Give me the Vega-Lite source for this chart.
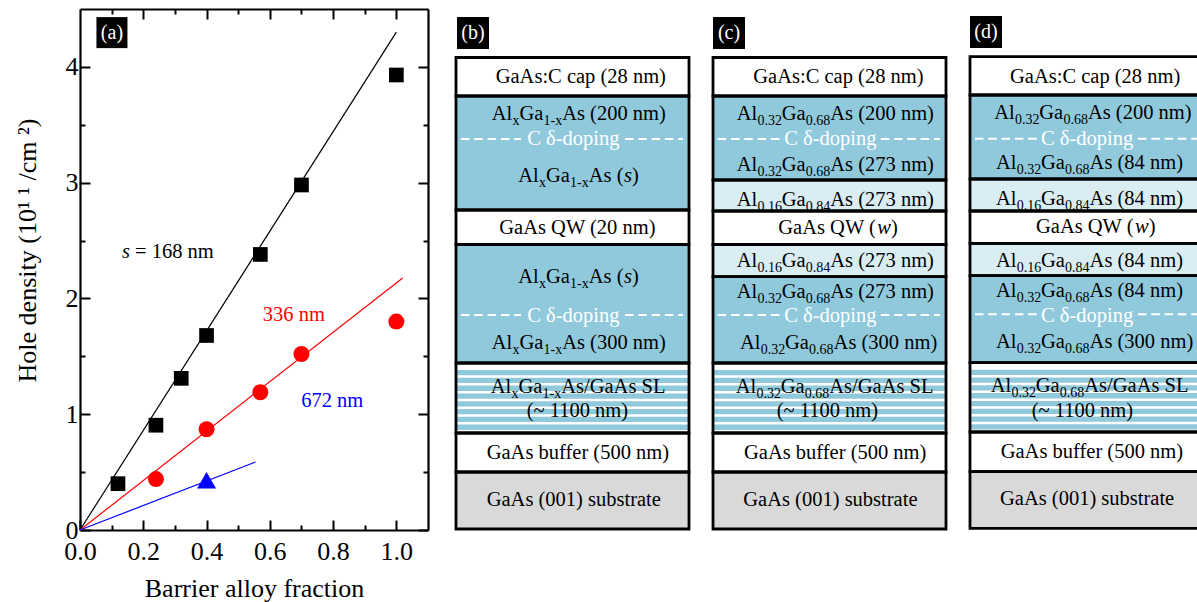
{
"$schema":"https://vega.github.io/schema/vega-lite/v6.json",
"padding":{"left":13,"top":8,"right":0,"bottom":0},
"background":"white",
"config":{"view":{"stroke":null},"font":"Liberation Serif"},
"bounds":"flush","spacing":26,
"datasets":{
"lines":[
{"series":"168 nm","fraction":0,"density":0},{"series":"168 nm","fraction":1.0,"density":4.3},
{"series":"336 nm","fraction":0,"density":0},{"series":"336 nm","fraction":1.02,"density":2.177},
{"series":"672 nm","fraction":0,"density":0},{"series":"672 nm","fraction":0.555,"density":0.587}],
"points":[
{"series":"168 nm","fraction":0.12,"density":0.4},{"series":"168 nm","fraction":0.24,"density":0.905},{"series":"168 nm","fraction":0.32,"density":1.31},{"series":"168 nm","fraction":0.4,"density":1.68},{"series":"168 nm","fraction":0.57,"density":2.38},{"series":"168 nm","fraction":0.7,"density":2.98},{"series":"168 nm","fraction":1.0,"density":3.93},
{"series":"336 nm","fraction":0.24,"density":0.44},{"series":"336 nm","fraction":0.4,"density":0.87},{"series":"336 nm","fraction":0.57,"density":1.19},{"series":"336 nm","fraction":0.7,"density":1.52},{"series":"336 nm","fraction":1.0,"density":1.8},
{"series":"672 nm","fraction":0.4,"density":0.43}],
"notes":[
{"label":"= 168 nm","fraction":0.1737,"density":2.346,"series":"168 nm"},
{"label":"336 nm","fraction":0.578,"density":1.807,"series":"336 nm"},
{"label":"672 nm","fraction":0.699,"density":1.06,"series":"672 nm"}],
"layers":[
{"panel":"b","part":"layer","material":"GaAs","top":0.5,"bottom":39},{"panel":"b","part":"layer","material":"AlGaAs","top":39,"bottom":153},{"panel":"b","part":"layer","material":"GaAs","top":153,"bottom":187.5},{"panel":"b","part":"layer","material":"AlGaAs","top":187.5,"bottom":306},{"panel":"b","part":"layer","material":"GaAs","top":306,"bottom":376},{"panel":"b","part":"layer","material":"GaAs","top":376,"bottom":415},{"panel":"b","part":"layer","material":"substrate","top":415,"bottom":472},
{"panel":"c","part":"layer","material":"GaAs","top":0.5,"bottom":39},{"panel":"c","part":"layer","material":"AlGaAs","top":39,"bottom":123},{"panel":"c","part":"layer","material":"spacer","top":123,"bottom":154},{"panel":"c","part":"layer","material":"GaAs","top":154,"bottom":187.5},{"panel":"c","part":"layer","material":"spacer","top":187.5,"bottom":219.7},{"panel":"c","part":"layer","material":"AlGaAs","top":219.7,"bottom":306},{"panel":"c","part":"layer","material":"GaAs","top":306,"bottom":376},{"panel":"c","part":"layer","material":"GaAs","top":376,"bottom":415},{"panel":"c","part":"layer","material":"substrate","top":415,"bottom":472},
{"panel":"d","part":"layer","material":"GaAs","top":-0.3,"bottom":38},{"panel":"d","part":"layer","material":"AlGaAs","top":38,"bottom":122},{"panel":"d","part":"layer","material":"spacer","top":122,"bottom":154},{"panel":"d","part":"layer","material":"GaAs","top":154,"bottom":186.3},{"panel":"d","part":"layer","material":"spacer","top":186.3,"bottom":218.7},{"panel":"d","part":"layer","material":"AlGaAs","top":218.7,"bottom":305.7},{"panel":"d","part":"layer","material":"GaAs","top":305.7,"bottom":375},{"panel":"d","part":"layer","material":"GaAs","top":375,"bottom":414.7},{"panel":"d","part":"layer","material":"substrate","top":414.7,"bottom":471.3},
{"panel":"b","part":"stripe","material":"AlGaAs","top":313,"bottom":318.3},{"panel":"b","part":"stripe","material":"AlGaAs","top":320.8,"bottom":326.1},{"panel":"b","part":"stripe","material":"AlGaAs","top":328.6,"bottom":333.9},{"panel":"b","part":"stripe","material":"AlGaAs","top":336.4,"bottom":341.7},{"panel":"b","part":"stripe","material":"AlGaAs","top":344.2,"bottom":349.5},{"panel":"b","part":"stripe","material":"AlGaAs","top":352,"bottom":357.3},{"panel":"b","part":"stripe","material":"AlGaAs","top":359.8,"bottom":365.1},{"panel":"b","part":"stripe","material":"AlGaAs","top":367.6,"bottom":372.9},
{"panel":"c","part":"stripe","material":"AlGaAs","top":313,"bottom":318.3},{"panel":"c","part":"stripe","material":"AlGaAs","top":320.8,"bottom":326.1},{"panel":"c","part":"stripe","material":"AlGaAs","top":328.6,"bottom":333.9},{"panel":"c","part":"stripe","material":"AlGaAs","top":336.4,"bottom":341.7},{"panel":"c","part":"stripe","material":"AlGaAs","top":344.2,"bottom":349.5},{"panel":"c","part":"stripe","material":"AlGaAs","top":352,"bottom":357.3},{"panel":"c","part":"stripe","material":"AlGaAs","top":359.8,"bottom":365.1},{"panel":"c","part":"stripe","material":"AlGaAs","top":367.6,"bottom":372.9},
{"panel":"d","part":"stripe","material":"AlGaAs","top":312.7,"bottom":318},{"panel":"d","part":"stripe","material":"AlGaAs","top":320.5,"bottom":325.8},{"panel":"d","part":"stripe","material":"AlGaAs","top":328.3,"bottom":333.6},{"panel":"d","part":"stripe","material":"AlGaAs","top":336.1,"bottom":341.4},{"panel":"d","part":"stripe","material":"AlGaAs","top":343.9,"bottom":349.2},{"panel":"d","part":"stripe","material":"AlGaAs","top":351.7,"bottom":357},{"panel":"d","part":"stripe","material":"AlGaAs","top":359.5,"bottom":364.8},{"panel":"d","part":"stripe","material":"AlGaAs","top":367.3,"bottom":372.6}],
"doping":[
{"panel":"b","from":5,"to":65,"depth":82},{"panel":"b","from":169,"to":227,"depth":82},{"panel":"b","from":5,"to":65,"depth":258},{"panel":"b","from":169,"to":227,"depth":258},
{"panel":"c","from":4.7,"to":67,"depth":82},{"panel":"c","from":167.7,"to":227,"depth":82},{"panel":"c","from":4.7,"to":67,"depth":258},{"panel":"c","from":167.7,"to":227,"depth":258},
{"panel":"d","from":5,"to":67,"depth":81.7},{"panel":"d","from":168,"to":240,"depth":81.7},{"panel":"d","from":5,"to":67,"depth":257.3},{"panel":"d","from":168,"to":240,"depth":257.3}],
"tags":[{"panel":"b","label":"(b)","across":17,"depth":-24},{"panel":"c","label":"(c)","across":16,"depth":-24},{"panel":"d","label":"(d)","across":16,"depth":-25}],
"texts":[
{"panel":"b","role":"main","label":"GaAs:C cap (28 nm)","across":39.7,"depth":26.3},
{"panel":"b","role":"main","label":"Al","across":35.7,"depth":63},{"panel":"b","role":"sub","label":"x","across":56.4,"depth":68},{"panel":"b","role":"main","label":"Ga","across":63.4,"depth":63},{"panel":"b","role":"sub","label":"1-x","across":87.5,"depth":68},{"panel":"b","role":"main","label":"As (200 nm)","across":106.2,"depth":63},
{"panel":"b","role":"doping","label":"C δ-doping","across":71.3,"depth":88},
{"panel":"b","role":"main","label":"Al","across":62.3,"depth":124.7},{"panel":"b","role":"sub","label":"x","across":83,"depth":129.7},{"panel":"b","role":"main","label":"Ga","across":90,"depth":124.7},{"panel":"b","role":"sub","label":"1-x","across":114.1,"depth":129.7},{"panel":"b","role":"main","label":"As (","across":132.8,"depth":124.7},{"panel":"b","role":"italic","label":"s","across":167.9,"depth":124.7},{"panel":"b","role":"main","label":")","across":176,"depth":124.7},
{"panel":"b","role":"main","label":"GaAs QW (20 nm)","across":43.3,"depth":177},
{"panel":"b","role":"main","label":"Al","across":62.3,"depth":226.3},{"panel":"b","role":"sub","label":"x","across":83,"depth":231.3},{"panel":"b","role":"main","label":"Ga","across":90,"depth":226.3},{"panel":"b","role":"sub","label":"1-x","across":114.1,"depth":231.3},{"panel":"b","role":"main","label":"As (","across":132.8,"depth":226.3},{"panel":"b","role":"italic","label":"s","across":167.9,"depth":226.3},{"panel":"b","role":"main","label":")","across":176,"depth":226.3},
{"panel":"b","role":"doping","label":"C δ-doping","across":71.3,"depth":265.3},
{"panel":"b","role":"main","label":"Al","across":35.7,"depth":292.3},{"panel":"b","role":"sub","label":"x","across":56.4,"depth":297.3},{"panel":"b","role":"main","label":"Ga","across":63.4,"depth":292.3},{"panel":"b","role":"sub","label":"1-x","across":87.5,"depth":297.3},{"panel":"b","role":"main","label":"As (300 nm)","across":106.2,"depth":292.3},
{"panel":"b","role":"main","label":"Al","across":34.7,"depth":336.3},{"panel":"b","role":"sub","label":"x","across":55.4,"depth":341.3},{"panel":"b","role":"main","label":"Ga","across":62.4,"depth":336.3},{"panel":"b","role":"sub","label":"1-x","across":86.5,"depth":341.3},{"panel":"b","role":"main","label":"As/GaAs SL","across":105.2,"depth":336.3},
{"panel":"b","role":"main","label":"(~ 1100 nm)","across":70.7,"depth":360.3},
{"panel":"b","role":"main","label":"GaAs buffer (500 nm)","across":30.7,"depth":402.3},
{"panel":"b","role":"main","label":"GaAs (001) substrate","across":30.7,"depth":449},

{"panel":"c","role":"main","label":"GaAs:C cap (28 nm)","across":40.3,"depth":26.3},
{"panel":"c","role":"main","label":"Al","across":23.7,"depth":63},{"panel":"c","role":"sub","label":"0.32","across":44.4,"depth":68},{"panel":"c","role":"main","label":"Ga","across":68.7,"depth":63},{"panel":"c","role":"sub","label":"0.68","across":92.8,"depth":68},{"panel":"c","role":"main","label":"As (200 nm)","across":117.3,"depth":63},
{"panel":"c","role":"doping","label":"C δ-doping","across":71.3,"depth":88},
{"panel":"c","role":"main","label":"Al","across":23.7,"depth":113.7},{"panel":"c","role":"sub","label":"0.32","across":44.4,"depth":118.7},{"panel":"c","role":"main","label":"Ga","across":68.7,"depth":113.7},{"panel":"c","role":"sub","label":"0.68","across":92.8,"depth":118.7},{"panel":"c","role":"main","label":"As (273 nm)","across":117.3,"depth":113.7},
{"panel":"c","role":"main","label":"Al","across":23.7,"depth":149},{"panel":"c","role":"sub","label":"0.16","across":44.4,"depth":154},{"panel":"c","role":"main","label":"Ga","across":68.7,"depth":149},{"panel":"c","role":"sub","label":"0.84","across":92.8,"depth":154},{"panel":"c","role":"main","label":"As (273 nm)","across":117.3,"depth":149},
{"panel":"c","role":"main","label":"GaAs QW (","across":65.3,"depth":177},{"panel":"c","role":"italic","label":"w","across":164.2,"depth":177},{"panel":"c","role":"main","label":")","across":178,"depth":177},
{"panel":"c","role":"main","label":"Al","across":23.7,"depth":210.3},{"panel":"c","role":"sub","label":"0.16","across":44.4,"depth":215.3},{"panel":"c","role":"main","label":"Ga","across":68.7,"depth":210.3},{"panel":"c","role":"sub","label":"0.84","across":92.8,"depth":215.3},{"panel":"c","role":"main","label":"As (273 nm)","across":117.3,"depth":210.3},
{"panel":"c","role":"main","label":"Al","across":23.7,"depth":241.3},{"panel":"c","role":"sub","label":"0.32","across":44.4,"depth":246.3},{"panel":"c","role":"main","label":"Ga","across":68.7,"depth":241.3},{"panel":"c","role":"sub","label":"0.68","across":92.8,"depth":246.3},{"panel":"c","role":"main","label":"As (273 nm)","across":117.3,"depth":241.3},
{"panel":"c","role":"doping","label":"C δ-doping","across":71.3,"depth":265.3},
{"panel":"c","role":"main","label":"Al","across":27,"depth":292.3},{"panel":"c","role":"sub","label":"0.32","across":47.7,"depth":297.3},{"panel":"c","role":"main","label":"Ga","across":72,"depth":292.3},{"panel":"c","role":"sub","label":"0.68","across":96.1,"depth":297.3},{"panel":"c","role":"main","label":"As (300 nm)","across":120.6,"depth":292.3},
{"panel":"c","role":"main","label":"Al","across":22.7,"depth":336.3},{"panel":"c","role":"sub","label":"0.32","across":43.4,"depth":341.3},{"panel":"c","role":"main","label":"Ga","across":67.7,"depth":336.3},{"panel":"c","role":"sub","label":"0.68","across":91.8,"depth":341.3},{"panel":"c","role":"main","label":"As/GaAs SL","across":116.3,"depth":336.3},
{"panel":"c","role":"main","label":"(~ 1100 nm)","across":63.7,"depth":360.3},
{"panel":"c","role":"main","label":"GaAs buffer (500 nm)","across":31,"depth":402.3},
{"panel":"c","role":"main","label":"GaAs (001) substrate","across":30.3,"depth":449},

{"panel":"d","role":"main","label":"GaAs:C cap (28 nm)","across":40,"depth":26},
{"panel":"d","role":"main","label":"Al","across":24.3,"depth":62},{"panel":"d","role":"sub","label":"0.32","across":45,"depth":67},{"panel":"d","role":"main","label":"Ga","across":69.3,"depth":62},{"panel":"d","role":"sub","label":"0.68","across":93.4,"depth":67},{"panel":"d","role":"main","label":"As (200 nm)","across":117.9,"depth":62},
{"panel":"d","role":"doping","label":"C δ-doping","across":71,"depth":87.5},
{"panel":"d","role":"main","label":"Al","across":26,"depth":112.3},{"panel":"d","role":"sub","label":"0.32","across":46.7,"depth":117.3},{"panel":"d","role":"main","label":"Ga","across":71,"depth":112.3},{"panel":"d","role":"sub","label":"0.68","across":95.1,"depth":117.3},{"panel":"d","role":"main","label":"As (84 nm)","across":119.6,"depth":112.3},
{"panel":"d","role":"main","label":"Al","across":26,"depth":148},{"panel":"d","role":"sub","label":"0.16","across":46.7,"depth":153},{"panel":"d","role":"main","label":"Ga","across":71,"depth":148},{"panel":"d","role":"sub","label":"0.84","across":95.1,"depth":153},{"panel":"d","role":"main","label":"As (84 nm)","across":119.6,"depth":148},
{"panel":"d","role":"main","label":"GaAs QW (","across":66,"depth":176.3},{"panel":"d","role":"italic","label":"w","across":164.9,"depth":176.3},{"panel":"d","role":"main","label":")","across":178.7,"depth":176.3},
{"panel":"d","role":"main","label":"Al","across":26,"depth":209.7},{"panel":"d","role":"sub","label":"0.16","across":46.7,"depth":214.7},{"panel":"d","role":"main","label":"Ga","across":71,"depth":209.7},{"panel":"d","role":"sub","label":"0.84","across":95.1,"depth":214.7},{"panel":"d","role":"main","label":"As (84 nm)","across":119.6,"depth":209.7},
{"panel":"d","role":"main","label":"Al","across":26,"depth":240.3},{"panel":"d","role":"sub","label":"0.32","across":46.7,"depth":245.3},{"panel":"d","role":"main","label":"Ga","across":71,"depth":240.3},{"panel":"d","role":"sub","label":"0.68","across":95.1,"depth":245.3},{"panel":"d","role":"main","label":"As (84 nm)","across":119.6,"depth":240.3},
{"panel":"d","role":"doping","label":"C δ-doping","across":71,"depth":264.5},
{"panel":"d","role":"main","label":"Al","across":26,"depth":291.3},{"panel":"d","role":"sub","label":"0.32","across":46.7,"depth":296.3},{"panel":"d","role":"main","label":"Ga","across":71,"depth":291.3},{"panel":"d","role":"sub","label":"0.68","across":95.1,"depth":296.3},{"panel":"d","role":"main","label":"As (300 nm)","across":119.6,"depth":291.3},
{"panel":"d","role":"main","label":"Al","across":20.7,"depth":335.3},{"panel":"d","role":"sub","label":"0.32","across":41.4,"depth":340.3},{"panel":"d","role":"main","label":"Ga","across":65.7,"depth":335.3},{"panel":"d","role":"sub","label":"0.68","across":89.8,"depth":340.3},{"panel":"d","role":"main","label":"As/GaAs SL","across":114.3,"depth":335.3},
{"panel":"d","role":"main","label":"(~ 1100 nm)","across":61.7,"depth":359.7},
{"panel":"d","role":"main","label":"GaAs buffer (500 nm)","across":30.7,"depth":401.3},
{"panel":"d","role":"main","label":"GaAs (001) substrate","across":30,"depth":448}
]
},
"hconcat":[
{"width":348,"height":521,
"resolve":{"axis":{"x":"independent","y":"independent"}},
"layer":[
{"data":{"name":"lines"},"transform":[{"filter":"datum.series=='168 nm'"}],"mark":{"type":"line","color":"#000000","strokeWidth":1.2},
"encoding":{"x":{"field":"fraction","type":"quantitative","scale":{"domain":[0,1.1],"nice":false},
"axis":{"orient":"bottom","values":[0,0.2,0.4,0.6,0.8,1.0],"format":".1f","title":"Barrier alloy fraction","titleFont":"Liberation Serif","titleFontSize":26,"titleFontWeight":"normal","titleColor":"#000000","titleX":174,"titleY":66.7,"titleAlign":"center","titleBaseline":"alphabetic","labelFont":"Liberation Serif","labelFontSize":26,"labelColor":"#000000","labelPadding":39,"labelBaseline":"alphabetic","labelOverlap":false,"labelFlush":false,"labelBound":false,"tickSize":-10,"tickWidth":2,"tickColor":"#000000","domainWidth":2.2,"domainColor":"#000000","grid":false}},
"y":{"field":"density","type":"quantitative","scale":{"domain":[0,4.5],"nice":false},
"axis":{"orient":"left","values":[0,1,2,3,4],"format":"d","title":"Hole density (10¹ ¹ /cm ²)","titleFont":"Liberation Serif","titleFontSize":26,"titleFontWeight":"normal","titleColor":"#000000","titleX":-45,"titleY":241,"titleAngle":270,"titleAlign":"center","titleBaseline":"alphabetic","labelFont":"Liberation Serif","labelFontSize":26,"labelColor":"#000000","labelPadding":12,"labelOverlap":false,"labelFlush":false,"labelBound":false,"tickSize":-10,"tickWidth":2,"tickColor":"#000000","domainWidth":2.2,"domainColor":"#000000","grid":false}}}},
{"data":{"name":"lines"},"transform":[{"filter":"datum.series=='336 nm'"}],"mark":{"type":"line","color":"#FF0000","strokeWidth":1.2},
"encoding":{"x":{"field":"fraction","type":"quantitative","scale":{"domain":[0,1.1],"nice":false},
"axis":{"orient":"top","values":[0.2,0.4,0.6,0.8,1.0],"labels":false,"title":null,"tickSize":-10,"tickWidth":2,"tickColor":"#000000","domainWidth":2.2,"domainColor":"#000000","grid":false}},
"y":{"field":"density","type":"quantitative","scale":{"domain":[0,4.5],"nice":false},
"axis":{"orient":"right","values":[0,1,2,3,4],"labels":false,"title":null,"tickSize":-10,"tickWidth":2,"tickColor":"#000000","domainWidth":2.2,"domainColor":"#000000","grid":false}}}},
{"data":{"name":"lines"},"transform":[{"filter":"datum.series=='672 nm'"}],"mark":{"type":"line","color":"#0000FF","strokeWidth":1.2},
"encoding":{"x":{"field":"fraction","type":"quantitative","scale":{"domain":[0,1.1],"nice":false},
"axis":{"orient":"bottom","values":[0.1,0.3,0.5,0.7,0.9],"labels":false,"title":null,"domain":false,"tickSize":-5,"tickWidth":2,"tickColor":"#000000","grid":false}},
"y":{"field":"density","type":"quantitative","scale":{"domain":[0,4.5],"nice":false},
"axis":{"orient":"left","values":[0.5,1.5,2.5,3.5],"labels":false,"title":null,"domain":false,"tickSize":-5,"tickWidth":2,"tickColor":"#000000","grid":false}}}},
{"data":{"name":"points"},"transform":[{"filter":"datum.series=='168 nm'"}],"mark":{"type":"point","shape":"square","filled":true,"color":"#000000","size":216,"opacity":1},
"encoding":{"x":{"field":"fraction","type":"quantitative","scale":{"domain":[0,1.1],"nice":false},
"axis":{"orient":"top","values":[0.1,0.3,0.5,0.7,0.9],"labels":false,"title":null,"domain":false,"tickSize":-5,"tickWidth":2,"tickColor":"#000000","grid":false}},
"y":{"field":"density","type":"quantitative","scale":{"domain":[0,4.5],"nice":false},
"axis":{"orient":"right","values":[0.5,1.5,2.5,3.5],"labels":false,"title":null,"domain":false,"tickSize":-5,"tickWidth":2,"tickColor":"#000000","grid":false}}}},
{"data":{"name":"points"},"transform":[{"filter":"datum.series=='336 nm'"}],"mark":{"type":"circle","color":"#FF0000","size":256,"opacity":1},
"encoding":{"x":{"field":"fraction","type":"quantitative","axis":null,"scale":{"domain":[0,1.1],"nice":false}},"y":{"field":"density","type":"quantitative","axis":null,"scale":{"domain":[0,4.5],"nice":false}}}},
{"data":{"name":"points"},"transform":[{"filter":"datum.series=='672 nm'"}],"mark":{"type":"point","shape":"triangle-up","filled":true,"color":"#0000FF","size":361,"opacity":1},
"encoding":{"x":{"field":"fraction","type":"quantitative","axis":null,"scale":{"domain":[0,1.1],"nice":false}},"y":{"field":"density","type":"quantitative","axis":null,"scale":{"domain":[0,4.5],"nice":false}}}},
{"data":{"values":[{"label":"(a)","fraction":0.101,"density":4.296}]},"mark":{"type":"point","shape":"square","filled":true,"color":"#000000","size":961,"opacity":1},
"encoding":{"x":{"field":"fraction","type":"quantitative","axis":null,"scale":{"domain":[0,1.1],"nice":false}},"y":{"field":"density","type":"quantitative","axis":null,"scale":{"domain":[0,4.5],"nice":false}}}},
{"data":{"values":[{"label":"(a)","fraction":0.101,"density":4.296}]},"mark":{"type":"text","font":"Liberation Serif","fontSize":20,"color":"#FFFFFF","align":"center","baseline":"alphabetic","dy":6},
"encoding":{"text":{"field":"label"},"x":{"field":"fraction","type":"quantitative","axis":null,"scale":{"domain":[0,1.1],"nice":false}},"y":{"field":"density","type":"quantitative","axis":null,"scale":{"domain":[0,4.5],"nice":false}}}},
{"data":{"values":[{"label":"s","fraction":0.1326,"density":2.346}]},"mark":{"type":"text","font":"Liberation Serif","fontSize":20.5,"fontStyle":"italic","color":"#000000","align":"left","baseline":"alphabetic"},
"encoding":{"text":{"field":"label"},"x":{"field":"fraction","type":"quantitative","axis":null,"scale":{"domain":[0,1.1],"nice":false}},"y":{"field":"density","type":"quantitative","axis":null,"scale":{"domain":[0,4.5],"nice":false}}}},
{"data":{"name":"notes"},"mark":{"type":"text","font":"Liberation Serif","fontSize":20.5,"align":"left","baseline":"alphabetic"},
"encoding":{"text":{"field":"label"},"color":{"field":"series","type":"nominal","legend":null,"scale":{"domain":["168 nm","336 nm","672 nm"],"range":["#000000","#FF0000","#0000FF"]}},"x":{"field":"fraction","type":"quantitative","axis":null,"scale":{"domain":[0,1.1],"nice":false}},"y":{"field":"density","type":"quantitative","axis":null,"scale":{"domain":[0,4.5],"nice":false}}}}
]},
{"bounds":"flush","spacing":22,"hconcat":[
{"width":235,"height":521,
"layer":[
{"data":{"name":"layers"},"transform":[{"filter":"datum.panel=='b'"}],"mark":{"type":"rect"},"encoding":{"x":{"datum":0,"type":"quantitative","axis":null,"scale":{"domain":[-2,233],"nice":false}},"x2":{"datum":233},"y":{"field":"top","type":"quantitative","axis":null,"scale":{"domain":[-48,473],"reverse":true,"nice":false}},"y2":{"field":"bottom"},"fill":{"field":"material","type":"nominal","legend":null,"scale":{"domain":["GaAs","AlGaAs","spacer","substrate"],"range":["#FFFFFF","#90C9DC","#DAEDF3","#D9D9D9"]}}}},
{"data":{"name":"layers"},"transform":[{"filter":"datum.panel=='b' && datum.part=='layer'"}],"mark":{"type":"rect","fillOpacity":0,"stroke":"#000000","strokeWidth":2.8},"encoding":{"x":{"datum":0,"type":"quantitative","axis":null},"x2":{"datum":233},"y":{"field":"top","type":"quantitative","axis":null},"y2":{"field":"bottom"}}},
{"data":{"name":"doping"},"transform":[{"filter":"datum.panel=='b'"}],"mark":{"type":"rule","color":"#FFFFFF","strokeWidth":2,"strokeDash":[8.5,4.8]},"encoding":{"x":{"field":"from","type":"quantitative","axis":null},"x2":{"field":"to"},"y":{"field":"depth","type":"quantitative","axis":null}}},
{"data":{"name":"tags"},"transform":[{"filter":"datum.panel=='b'"}],"mark":{"type":"point","shape":"square","filled":true,"color":"#000000","size":1024,"opacity":1},"encoding":{"x":{"field":"across","type":"quantitative","axis":null},"y":{"field":"depth","type":"quantitative","axis":null}}},
{"data":{"name":"tags"},"transform":[{"filter":"datum.panel=='b'"}],"mark":{"type":"text","font":"Liberation Serif","fontSize":20,"color":"#FFFFFF","align":"center","baseline":"alphabetic","dy":6},"encoding":{"text":{"field":"label"},"x":{"field":"across","type":"quantitative","axis":null},"y":{"field":"depth","type":"quantitative","axis":null}}},
{"data":{"name":"texts"},"transform":[{"filter":"datum.panel=='b' && datum.role=='main'"}],"mark":{"type":"text","font":"Liberation Serif","fontSize":20.5,"color":"#000000","align":"left","baseline":"alphabetic"},"encoding":{"text":{"field":"label"},"x":{"field":"across","type":"quantitative","axis":null},"y":{"field":"depth","type":"quantitative","axis":null}}},
{"data":{"name":"texts"},"transform":[{"filter":"datum.panel=='b' && datum.role=='sub'"}],"mark":{"type":"text","font":"Liberation Serif","fontSize":14,"color":"#000000","align":"left","baseline":"alphabetic"},"encoding":{"text":{"field":"label"},"x":{"field":"across","type":"quantitative","axis":null},"y":{"field":"depth","type":"quantitative","axis":null}}},
{"data":{"name":"texts"},"transform":[{"filter":"datum.panel=='b' && datum.role=='doping'"}],"mark":{"type":"text","font":"Liberation Serif","fontSize":20.5,"color":"#FFFFFF","align":"left","baseline":"alphabetic"},"encoding":{"text":{"field":"label"},"x":{"field":"across","type":"quantitative","axis":null},"y":{"field":"depth","type":"quantitative","axis":null}}},
{"data":{"name":"texts"},"transform":[{"filter":"datum.panel=='b' && datum.role=='italic'"}],"mark":{"type":"text","font":"Liberation Serif","fontStyle":"italic","fontSize":20.5,"color":"#000000","align":"left","baseline":"alphabetic"},"encoding":{"text":{"field":"label"},"x":{"field":"across","type":"quantitative","axis":null},"y":{"field":"depth","type":"quantitative","axis":null}}}
]},
{"width":235,"height":521,
"layer":[
{"data":{"name":"layers"},"transform":[{"filter":"datum.panel=='c'"}],"mark":{"type":"rect"},"encoding":{"x":{"datum":0,"type":"quantitative","axis":null,"scale":{"domain":[-2,233],"nice":false}},"x2":{"datum":233},"y":{"field":"top","type":"quantitative","axis":null,"scale":{"domain":[-48,473],"reverse":true,"nice":false}},"y2":{"field":"bottom"},"fill":{"field":"material","type":"nominal","legend":null,"scale":{"domain":["GaAs","AlGaAs","spacer","substrate"],"range":["#FFFFFF","#90C9DC","#DAEDF3","#D9D9D9"]}}}},
{"data":{"name":"layers"},"transform":[{"filter":"datum.panel=='c' && datum.part=='layer'"}],"mark":{"type":"rect","fillOpacity":0,"stroke":"#000000","strokeWidth":2.8},"encoding":{"x":{"datum":0,"type":"quantitative","axis":null},"x2":{"datum":233},"y":{"field":"top","type":"quantitative","axis":null},"y2":{"field":"bottom"}}},
{"data":{"name":"doping"},"transform":[{"filter":"datum.panel=='c'"}],"mark":{"type":"rule","color":"#FFFFFF","strokeWidth":2,"strokeDash":[8.5,4.8]},"encoding":{"x":{"field":"from","type":"quantitative","axis":null},"x2":{"field":"to"},"y":{"field":"depth","type":"quantitative","axis":null}}},
{"data":{"name":"tags"},"transform":[{"filter":"datum.panel=='c'"}],"mark":{"type":"point","shape":"square","filled":true,"color":"#000000","size":1024,"opacity":1},"encoding":{"x":{"field":"across","type":"quantitative","axis":null},"y":{"field":"depth","type":"quantitative","axis":null}}},
{"data":{"name":"tags"},"transform":[{"filter":"datum.panel=='c'"}],"mark":{"type":"text","font":"Liberation Serif","fontSize":20,"color":"#FFFFFF","align":"center","baseline":"alphabetic","dy":6},"encoding":{"text":{"field":"label"},"x":{"field":"across","type":"quantitative","axis":null},"y":{"field":"depth","type":"quantitative","axis":null}}},
{"data":{"name":"texts"},"transform":[{"filter":"datum.panel=='c' && datum.role=='main'"}],"mark":{"type":"text","font":"Liberation Serif","fontSize":20.5,"color":"#000000","align":"left","baseline":"alphabetic"},"encoding":{"text":{"field":"label"},"x":{"field":"across","type":"quantitative","axis":null},"y":{"field":"depth","type":"quantitative","axis":null}}},
{"data":{"name":"texts"},"transform":[{"filter":"datum.panel=='c' && datum.role=='sub'"}],"mark":{"type":"text","font":"Liberation Serif","fontSize":14,"color":"#000000","align":"left","baseline":"alphabetic"},"encoding":{"text":{"field":"label"},"x":{"field":"across","type":"quantitative","axis":null},"y":{"field":"depth","type":"quantitative","axis":null}}},
{"data":{"name":"texts"},"transform":[{"filter":"datum.panel=='c' && datum.role=='doping'"}],"mark":{"type":"text","font":"Liberation Serif","fontSize":20.5,"color":"#FFFFFF","align":"left","baseline":"alphabetic"},"encoding":{"text":{"field":"label"},"x":{"field":"across","type":"quantitative","axis":null},"y":{"field":"depth","type":"quantitative","axis":null}}},
{"data":{"name":"texts"},"transform":[{"filter":"datum.panel=='c' && datum.role=='italic'"}],"mark":{"type":"text","font":"Liberation Serif","fontStyle":"italic","fontSize":20.5,"color":"#000000","align":"left","baseline":"alphabetic"},"encoding":{"text":{"field":"label"},"x":{"field":"across","type":"quantitative","axis":null},"y":{"field":"depth","type":"quantitative","axis":null}}}
]},
{"width":229,"height":521,
"layer":[
{"data":{"name":"layers"},"transform":[{"filter":"datum.panel=='d'"}],"mark":{"type":"rect","clip":true},"encoding":{"x":{"datum":0,"type":"quantitative","axis":null,"scale":{"domain":[-2,227],"nice":false}},"x2":{"datum":233},"y":{"field":"top","type":"quantitative","axis":null,"scale":{"domain":[-48,473],"reverse":true,"nice":false}},"y2":{"field":"bottom"},"fill":{"field":"material","type":"nominal","legend":null,"scale":{"domain":["GaAs","AlGaAs","spacer","substrate"],"range":["#FFFFFF","#90C9DC","#DAEDF3","#D9D9D9"]}}}},
{"data":{"name":"layers"},"transform":[{"filter":"datum.panel=='d' && datum.part=='layer'"}],"mark":{"type":"rect","clip":true,"fillOpacity":0,"stroke":"#000000","strokeWidth":2.8},"encoding":{"x":{"datum":0,"type":"quantitative","axis":null},"x2":{"datum":233},"y":{"field":"top","type":"quantitative","axis":null},"y2":{"field":"bottom"}}},
{"data":{"name":"doping"},"transform":[{"filter":"datum.panel=='d'"}],"mark":{"type":"rule","clip":true,"color":"#FFFFFF","strokeWidth":2,"strokeDash":[8.5,4.8]},"encoding":{"x":{"field":"from","type":"quantitative","axis":null},"x2":{"field":"to"},"y":{"field":"depth","type":"quantitative","axis":null}}},
{"data":{"name":"tags"},"transform":[{"filter":"datum.panel=='d'"}],"mark":{"type":"point","shape":"square","filled":true,"color":"#000000","size":1024,"opacity":1},"encoding":{"x":{"field":"across","type":"quantitative","axis":null},"y":{"field":"depth","type":"quantitative","axis":null}}},
{"data":{"name":"tags"},"transform":[{"filter":"datum.panel=='d'"}],"mark":{"type":"text","font":"Liberation Serif","fontSize":20,"color":"#FFFFFF","align":"center","baseline":"alphabetic","dy":6},"encoding":{"text":{"field":"label"},"x":{"field":"across","type":"quantitative","axis":null},"y":{"field":"depth","type":"quantitative","axis":null}}},
{"data":{"name":"texts"},"transform":[{"filter":"datum.panel=='d' && datum.role=='main'"}],"mark":{"type":"text","font":"Liberation Serif","fontSize":20.5,"color":"#000000","align":"left","baseline":"alphabetic"},"encoding":{"text":{"field":"label"},"x":{"field":"across","type":"quantitative","axis":null},"y":{"field":"depth","type":"quantitative","axis":null}}},
{"data":{"name":"texts"},"transform":[{"filter":"datum.panel=='d' && datum.role=='sub'"}],"mark":{"type":"text","font":"Liberation Serif","fontSize":14,"color":"#000000","align":"left","baseline":"alphabetic"},"encoding":{"text":{"field":"label"},"x":{"field":"across","type":"quantitative","axis":null},"y":{"field":"depth","type":"quantitative","axis":null}}},
{"data":{"name":"texts"},"transform":[{"filter":"datum.panel=='d' && datum.role=='doping'"}],"mark":{"type":"text","font":"Liberation Serif","fontSize":20.5,"color":"#FFFFFF","align":"left","baseline":"alphabetic"},"encoding":{"text":{"field":"label"},"x":{"field":"across","type":"quantitative","axis":null},"y":{"field":"depth","type":"quantitative","axis":null}}},
{"data":{"name":"texts"},"transform":[{"filter":"datum.panel=='d' && datum.role=='italic'"}],"mark":{"type":"text","font":"Liberation Serif","fontStyle":"italic","fontSize":20.5,"color":"#000000","align":"left","baseline":"alphabetic"},"encoding":{"text":{"field":"label"},"x":{"field":"across","type":"quantitative","axis":null},"y":{"field":"depth","type":"quantitative","axis":null}}}
]}
]}
]
}
